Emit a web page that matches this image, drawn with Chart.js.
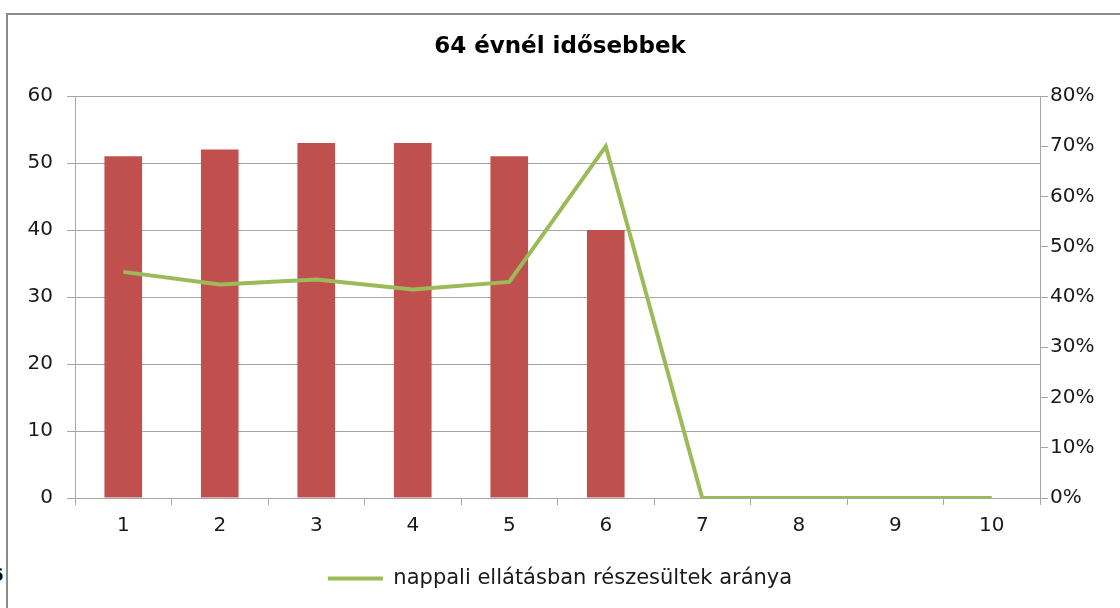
<!DOCTYPE html>
<html>
<head>
<meta charset="utf-8">
<script src="https://cdn.jsdelivr.net/npm/chart.js@4/dist/chart.umd.min.js"></script>
<style>
  html, body { margin:0; padding:0; background:#fff; }
  #wrap { position:relative; width:1120px; height:608px; overflow:hidden; }
  #frame { position:absolute; left:6px; top:13px; width:1200px; height:700px;
           border-left:2px solid #8c8c8c; border-top:2px solid #8c8c8c; box-sizing:border-box; }
  #stray { position:absolute; left:-9px; top:564px; font:bold 18px "DejaVu Sans"; color:#000; }
  canvas { position:absolute; left:0; top:0; }
</style>
</head>
<body>
<div id="wrap">
  <div id="frame"></div>
  <div id="stray">6</div>
  <canvas id="c" width="1120" height="608"></canvas>
</div>
<script>
const titleText = '64 évnél idősebbek';
const categories = ['1','2','3','4','5','6','7','8','9','10'];
const barValues = [51, 52, 53, 53, 51, 40, 0, 0, 0, 0];
const lineValues = [0.45, 0.425, 0.435, 0.415, 0.43, 0.70, 0, 0, 0, 0];
const lineLabel = 'nappali ellátásban részesültek aránya';
const leftMax = 60, leftStep = 10;
const rightMax = 0.8, rightStep = 0.1;

const gridColor = '#a6a6a6';
const textColor = '#1a1a1a';
const fontFamily = '"DejaVu Sans", sans-serif';

new Chart(document.getElementById('c'), {
  data: {
    labels: categories,
    datasets: [
      {
        type: 'line',
        label: lineLabel,
        data: lineValues,
        yAxisID: 'y2',
        borderColor: '#9bbb59',
        backgroundColor: '#9bbb59',
        borderWidth: 4,
        pointRadius: 0,
        tension: 0,
        order: 0
      },
      {
        type: 'bar',
        label: 'bar',
        data: barValues,
        yAxisID: 'y',
        backgroundColor: '#c0504d',
        borderWidth: 0,
        categoryPercentage: 1,
        barPercentage: 0.39,
        order: 1
      }
    ]
  },
  options: {
    responsive: false,
    animation: false,
    layout: { padding: { left: 0, right: 0, top: 0, bottom: 9 } },
    plugins: {
      title: {
        display: true,
        text: titleText,
        color: '#000',
        font: { family: fontFamily, size: 23, weight: 'bold' },
        padding: { top: 33, bottom: 35.4 }
      },
      legend: {
        display: true,
        position: 'bottom',
        labels: {
          filter: (item) => item.datasetIndex === 0,
          generateLabels: (chart) => Chart.defaults.plugins.legend.labels.generateLabels(chart)
            .map(l => Object.assign(l, { lineWidth: 0 })),
          boxWidth: 55,
          boxHeight: 4,
          color: textColor,
          font: { family: fontFamily, size: 21 },
          padding: 9
        }
      },
      tooltip: { enabled: false }
    },
    scales: {
      x: {
        type: 'category',
        offset: true,
        grid: { display: true, drawOnChartArea: false, offset: true, color: gridColor, tickLength: 7 },
        border: { display: true, color: gridColor, width: 1 },
        ticks: { color: textColor, font: { family: fontFamily, size: 20 }, padding: 9, maxRotation: 0 },
        afterFit: (s) => { s.height = 61; }
      },
      y: {
        type: 'linear',
        position: 'left',
        min: 0, max: leftMax,
        grid: { color: gridColor, tickLength: 8 },
        border: { display: true, color: gridColor },
        ticks: { stepSize: leftStep, color: textColor, font: { family: fontFamily, size: 20 }, padding: 14 },
        afterFit: (s) => { s.width = 75; }
      },
      y2: {
        type: 'linear',
        position: 'right',
        min: 0, max: rightMax,
        grid: { drawOnChartArea: false, color: gridColor, tickLength: 8 },
        border: { display: true, color: gridColor },
        ticks: {
          stepSize: rightStep,
          color: textColor,
          font: { family: fontFamily, size: 20 },
          padding: 2,
          callback: (v) => Math.round(v * 100) + '%'
        },
        afterFit: (s) => { s.width = 80; }
      }
    }
  }
});
</script>
</body>
</html>
